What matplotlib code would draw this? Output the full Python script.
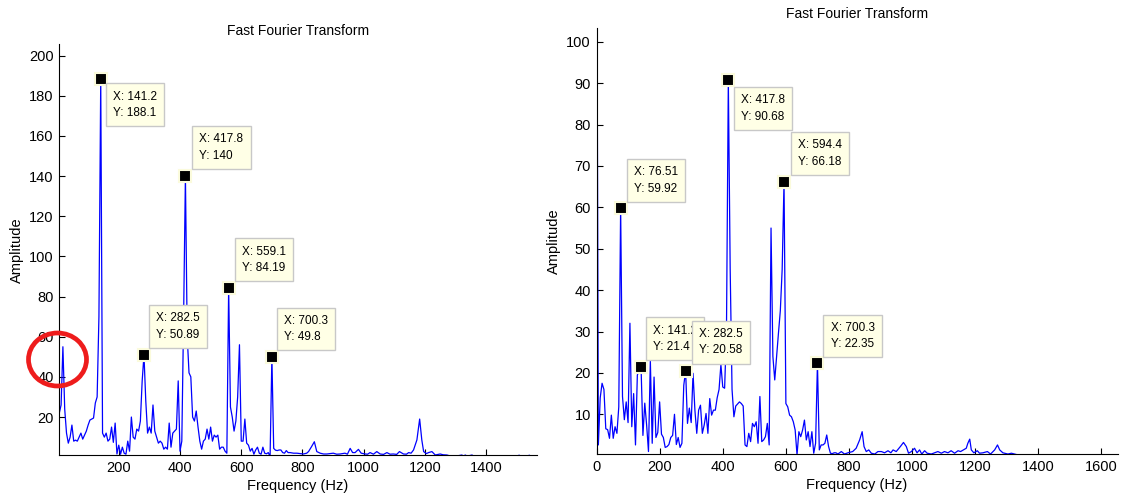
import numpy as np
import matplotlib.pyplot as plt
from matplotlib.patches import Ellipse

plt.rcParams['font.family'] = ['Liberation Sans', 'DejaVu Sans']

# FFT bin width (Hz)
DF = 5.885

# left spectrum, bins 1..128 (5.9 Hz .. 753 Hz)
left_amp = [
    22, 26, 55, 24, 12, 7, 10, 16, 8, 8.5,
    8, 10, 12, 9, 11, 13, 16, 18.5, 19, 19.5,
    27, 30, 70, 188.1, 12, 10, 12, 8, 9, 15,
    7.4, 17, 1.6, 6, 1.5, 5, 2, 1.5, 8, 3,
    20, 10, 9, 14, 13, 18, 38, 50.89, 28, 12,
    15, 12, 26, 13, 10, 7, 8, 7, 4, 5,
    4, 17, 5, 12, 13, 14, 38, 3, 8, 70,
    140, 60, 42, 40, 20, 18, 23, 15, 8, 4,
    8, 9, 14, 9, 15, 8, 11, 10, 11, 4,
    5, 5, 3, 2, 84.19, 25, 20, 13, 18, 30,
    56, 8, 8, 19, 7, 6, 3, 4.4, 1.5, 3.6,
    5, 2, 1.5, 5, 2, 1.7, 2.3, 0.3, 49.8, 4.4,
    3.5, 3.3, 3.6, 3.6, 2.3, 2, 3.3, 2.3,
]
left_tail_freq = [760, 771, 782, 792, 803, 814, 820, 830, 839, 847, 858, 869, 880, 890,
                  901, 912, 923, 932, 939, 947, 956, 964, 972, 983, 992, 1005, 1013,
                  1021, 1032, 1043, 1054, 1065, 1076, 1086, 1097, 1108, 1117, 1130,
                  1140, 1147, 1155, 1163, 1174, 1183, 1190, 1196, 1205, 1212, 1223,
                  1234, 1250, 1260, 1272, 1283, 1300, 1321, 1326, 1332, 1338, 1354,
                  1360, 1400, 1450, 1500, 1508, 1514, 1535, 1541, 1547, 1560]
left_tail_amp = [2.3, 2, 2, 1.8, 1.6, 2, 2.8, 5.3, 7.7, 2.8, 2, 1.6, 1.6, 1.8,
                 2, 1.5, 1.6, 1.8, 2, 1.5, 4.4, 2.3, 2.3, 3.9, 2, 1.6, 1.5,
                 2.3, 1.5, 2.8, 1.6, 1.4, 2.3, 1.5, 1.6, 1.4, 2.8, 1.6,
                 1.5, 2.3, 2.0, 3.6, 8.6, 19, 8.6, 2.8, 1.8, 2.3, 2.8,
                 1.1, 1.6, 1.2, 1.1, 0.6, 0.5, 1.1, 0.5, 1.1, 0.5, 1.1,
                 0.5, 0.5, 0.4, 0.5, 1.0, 0.5, 0.5, 1.0, 0.5, 0.5]

# right spectrum, bins 0..128 (0 Hz .. 753 Hz)
right_amp = [
    150, 2.6, 14, 17.5, 16, 6.5, 6.3, 4.2, 9.8, 4.2,
    7, 5.4, 11.8, 59.92, 14.3, 8.7, 13, 8, 32, 7,
    15, 2.6, 19.5, 20.5, 21.4, 4.9, 12.7, 7.4, 1, 23,
    3, 19, 4.4, 5.6, 13, 5.2, 4.4, 2, 2.2, 2.7,
    4.4, 4.9, 10, 2.7, 4.4, 2, 3, 17, 20.58, 7.8,
    11.5, 8, 19.9, 11, 5.4, 11, 12.2, 5.4, 7.4, 10.2,
    5.4, 13.8, 9.8, 11, 11, 14, 16, 22, 16.6, 16.3,
    30, 90.68, 45, 16, 9.4, 12, 12.5, 13, 12.6, 12,
    2.6, 2.2, 5.4, 3.4, 7.8, 7, 8.2, 3, 14.3, 3.4,
    3.8, 4.6, 7.8, 2.6, 55, 24, 18.3, 24, 29.6, 35,
    45, 66.18, 12.6, 11.8, 9.8, 9.4, 8.2, 6.2, 0.2, 5.8,
    4.6, 6.2, 8.6, 3.8, 5.8, 2.2, 5.8, 0.6, 3, 22.35,
    1.4, 2.6, 2.6, 3, 5, 2.2, 0.6, 0.5, 0.7,
]
right_tail_freq = [759, 765, 776, 786, 797, 812, 823, 834, 842, 848, 855, 863, 871, 882,
                   892, 903, 913, 924, 933, 940, 950, 963, 973, 982, 989, 998, 1008,
                   1016, 1024, 1031, 1040, 1048, 1061, 1072, 1082, 1093, 1103, 1114,
                   1124, 1135, 1146, 1154, 1165, 1172, 1177, 1183, 1188, 1196, 1207,
                   1214, 1225, 1239, 1249, 1262, 1271, 1278, 1288, 1304, 1315, 1325,
                   1335, 1650]
right_tail_amp = [0.7, 0.4, 1, 0.4, 0.7, 1, 1.8, 3.8, 5.8, 2.2, 1, 1.4, 0.6, 0.4,
                  1, 1, 0.7, 1.2, 0.7, 1.4, 1, 2.2, 3.2, 2.2, 0.6, 1, 1.8,
                  0.7, 1.4, 0.4, 1.2, 0.6, 0.4, 0.7, 1, 0.6, 1, 0.7,
                  1.2, 0.6, 1.2, 1, 1.5, 1.8, 3, 4, 1.4, 0.7, 1.2,
                  0.6, 0.7, 1, 0.4, 1.4, 2.6, 1.4, 0.7, 0.4, 0.6, 0.4,
                  0.2, 0.2]

# data tips
left_tip_x = [141.2, 417.8, 559.1, 282.5, 700.3]
left_tip_y = [188.1, 140, 84.19, 50.89, 49.8]
right_tip_x = [76.51, 141.2, 282.5, 417.8, 594.4, 700.3]
right_tip_y = [59.92, 21.4, 20.58, 90.68, 66.18, 22.35]

# box corner offsets from marker, in pixels: (dx, dy, corner)
left_tip_pos = [(5, -4, 'tl'), (7, 7, 'bl'), (6, 7, 'bl'), (5, 7, 'bl'), (5, 7, 'bl')]
right_tip_pos = [(6, 6, 'bl'), (5, 7, 'bl'), (6, 7, 'bl'), (6, -7, 'tl'), (7, 7, 'bl'), (6, 6, 'bl')]

left_freq = np.concatenate([DF * np.arange(1, len(left_amp) + 1), left_tail_freq])
left_vals = np.concatenate([left_amp, left_tail_amp])
right_freq = np.concatenate([DF * np.arange(0, len(right_amp)), right_tail_freq])
right_vals = np.concatenate([right_amp, right_tail_amp])

W, H = 1121, 501
fig = plt.figure(figsize=(W / 100, H / 100), dpi=100)


def px_axes(x0, x1, ytop, ybot):
    return fig.add_axes([x0 / W, 1 - ybot / H, (x1 - x0) / W, (ybot - ytop) / H])


def style(ax):
    for s in ('top', 'right'):
        ax.spines[s].set_visible(False)
    for s in ('left', 'bottom'):
        ax.spines[s].set_linewidth(0.8)
    ax.tick_params(direction='in', length=4, width=0.8, labelsize=10.5, pad=4)
    ax.set_title('Fast Fourier Transform', fontsize=10, pad=7)
    ax.set_xlabel('Frequency (Hz)', fontsize=10.5, labelpad=3)
    ax.set_ylabel('Amplitude', fontsize=10.5, labelpad=4)


PAD = 0.6
FS_TIP = 8.5


def add_tips(ax, xs, ys, pos):
    ax.plot(xs, ys, 's', color='black', markersize=8, markeredgecolor='#fbfbdc',
            markeredgewidth=1.5, zorder=3, clip_on=False)
    pad_px = PAD * FS_TIP * 100 / 72
    for x, y, (dx, dy, corner) in zip(xs, ys, pos):
        if corner == 'tl':
            off, va = (dx + pad_px, dy - pad_px), 'top'
        else:
            off, va = (dx + pad_px, dy + pad_px), 'bottom'
        ax.annotate(f'X: {x:g}\nY: {y:g}', xy=(x, y), xytext=off,
                    textcoords='offset pixels', ha='left', va=va,
                    fontsize=FS_TIP, linespacing=1.5, zorder=4,
                    bbox=dict(boxstyle=f'square,pad={PAD}', fc='#ffffe6',
                              ec='#c8c8c8', lw=1.0))


# left panel
ax1 = px_axes(59.3, 536.6, 44.3, 455.3)
ax1.plot(left_freq, left_vals, color='#0000ff', lw=0.9)
ax1.set_xlim(DF, 1565)
ax1.set_ylim(0.95, 205.6)
ax1.set_xticks(range(200, 1401, 200))
ax1.set_yticks(range(20, 201, 20))
style(ax1)
add_tips(ax1, left_tip_x, left_tip_y, left_tip_pos)

# right panel
ax2 = px_axes(596.5, 1117.7, 27.7, 454)
ax2.plot(right_freq, right_vals, color='#0000ff', lw=0.9)
ax2.set_xlim(0, 1652)
ax2.set_ylim(0.41, 103.4)
ax2.set_xticks(range(0, 1601, 200))
ax2.set_yticks(range(10, 101, 10))
style(ax2)
add_tips(ax2, right_tip_x, right_tip_y, right_tip_pos)

# red highlight circle on the left panel
fig.add_artist(Ellipse((57.5 / W, 1 - 359.5 / H), 58 / W, 53 / H,
                       transform=fig.transFigure, fill=False,
                       ec='#ee1c1c', lw=3.4, zorder=10))

fig.savefig('out.png', dpi=100)
